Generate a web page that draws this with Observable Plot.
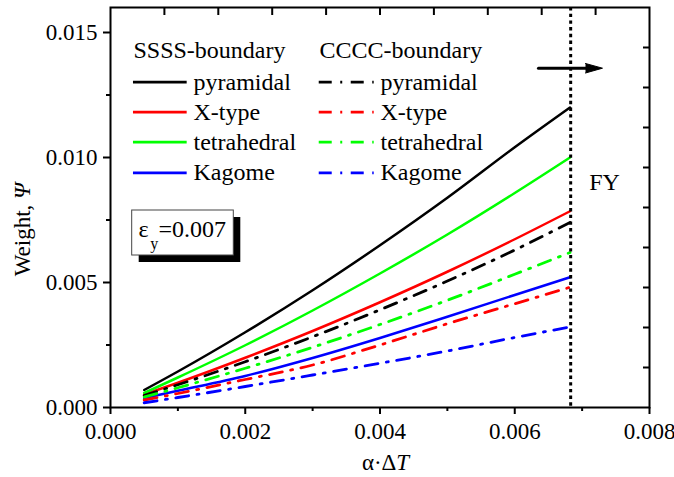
<!DOCTYPE html>
<html><head><meta charset="utf-8">
<script src="https://cdn.jsdelivr.net/npm/d3@7"></script>
<script src="https://cdn.jsdelivr.net/npm/@observablehq/plot@0.6"></script>
<style>html,body{margin:0;padding:0;background:#fff}#chart svg{display:block}</style>
</head><body><div id="chart"></div>
<script>
// x values (α·ΔT)
const alphaDT = [0.0005, 0.001, 0.002, 0.003, 0.004, 0.005, 0.006, 0.00682];
// SSSS-boundary (solid)
const ssssPyramidal   = [0.00070, 0.00144, 0.00301, 0.00469, 0.00649, 0.00839, 0.01041, 0.01200];
const ssssXtype       = [0.00052, 0.00099, 0.00199, 0.00306, 0.00421, 0.00543, 0.00673, 0.00785];
const ssssTetrahedral = [0.00058, 0.00120, 0.00249, 0.00388, 0.00536, 0.00692, 0.00858, 0.01000];
const ssssKagome      = [0.00038, 0.00067, 0.00126, 0.00198, 0.00278, 0.00363, 0.00450, 0.00521];
// CCCC-boundary (dash-dot)
const ccccPyramidal   = [0.00048, 0.00091, 0.00183, 0.00283, 0.00391, 0.00506, 0.00630, 0.00740];
const ccccXtype       = [0.00030, 0.00056, 0.00112, 0.00170, 0.00250, 0.00335, 0.00415, 0.00481];
const ccccTetrahedral = [0.00042, 0.00079, 0.00157, 0.00241, 0.00332, 0.00429, 0.00533, 0.00620];
const ccccKagome      = [0.00019, 0.00040, 0.00084, 0.00130, 0.00177, 0.00226, 0.00280, 0.00322];

const typeNames = ["pyramidal", "X-type", "tetrahedral", "Kagome"];
const typeColors = ["#000000", "#ff0000", "#00ff00", "#0000ff"];
const ssssSeries = [ssssPyramidal, ssssXtype, ssssTetrahedral, ssssKagome];
const ccccSeries = [ccccPyramidal, ccccXtype, ccccTetrahedral, ccccKagome];

const xMajorTicks = [0, 0.002, 0.004, 0.006, 0.008];
const xMinorTicks = [0.001, 0.003, 0.005, 0.007];
const yMajorTicks = [0, 0.005, 0.010, 0.015];
const yMinorTicks = [0.0025, 0.0075, 0.0125];
const topTicks = [0.0008, 0.0016, 0.0024, 0.0032, 0.0040, 0.0048, 0.0056, 0.0064, 0.0072];
const rightTicks = [0.0016, 0.0032, 0.0048, 0.0064, 0.0080, 0.0096, 0.0112, 0.0128, 0.0144];

const fyLimit = 0.00683;
const dashDot = "13,8.5,2,8.5";

// annotation anchors (data units)
const legendHeaderY = 0.014268;
const legendRowY = [0.013012, 0.011812, 0.010612, 0.009388];
const ssssLine = [0.000341, 0.001138], ssssTextX = 0.001232, ssssHeaderX = 0.000341;
const ccccLine = [0.003098, 0.003914], ccccTextX = 0.004007, ccccHeaderX = 0.003102;

const toRows = arr => arr.map((v, i) => ({x: alphaDT[i], y: v}));

const marks = [];
ssssSeries.forEach((s, i) => marks.push(Plot.line(toRows(s), {x: "x", y: "y", stroke: typeColors[i], strokeWidth: 2.5, curve: "monotone-x"})));
ccccSeries.forEach((s, i) => marks.push(Plot.line(toRows(s), {x: "x", y: "y", stroke: typeColors[i], strokeWidth: 2.8, strokeDasharray: dashDot, curve: "monotone-x"})));

// FY limit
marks.push(Plot.ruleX([fyLimit], {stroke: "black", strokeWidth: 3, strokeDasharray: "3.4,3.3"}));

// legend
marks.push(Plot.text(["SSSS-boundary"], {x: ssssHeaderX, y: legendHeaderY, text: d => d, textAnchor: "start", fontSize: 24}));
marks.push(Plot.text(["CCCC-boundary"], {x: ccccHeaderX, y: legendHeaderY, text: d => d, textAnchor: "start", fontSize: 24}));
typeNames.forEach((n, i) => {
  marks.push(Plot.ruleY([legendRowY[i]], {x1: ssssLine[0], x2: ssssLine[1], stroke: typeColors[i], strokeWidth: 2.8}));
  marks.push(Plot.text([n], {x: ssssTextX, y: legendRowY[i], text: d => d, textAnchor: "start", fontSize: 24}));
  marks.push(Plot.ruleY([legendRowY[i]], {x1: ccccLine[0], x2: ccccLine[1], stroke: typeColors[i], strokeWidth: 2.8, strokeDasharray: dashDot}));
  marks.push(Plot.text([n], {x: ccccTextX, y: legendRowY[i], text: d => d, textAnchor: "start", fontSize: 24}));
});

// epsilon box
const epsBox = {x1: 0.000322, x2: 0.001830, y1: 0.00608, y2: 0.00788};
marks.push(Plot.rect([epsBox], {x1: "x1", x2: "x2", y1: "y1", y2: "y2", fill: "black", dx: 7, dy: 7}));
marks.push(Plot.rect([epsBox], {x1: "x1", x2: "x2", y1: "y1", y2: "y2", fill: "white", stroke: "#444", strokeWidth: 1}));
marks.push(Plot.text(["ε"], {x: 0.000416, y: 0.007108, text: d => d, textAnchor: "start", fontSize: 24}));
marks.push(Plot.text(["y"], {x: 0.000590, y: 0.006540, text: d => d, textAnchor: "start", fontSize: 16}));
marks.push(Plot.text(["=0.007"], {x: 0.000712, y: 0.007108, text: d => d, textAnchor: "start", fontSize: 24}));

// arrow + FY
marks.push(Plot.line([{x: 0.006352, y: 0.013572}, {x: 0.007124, y: 0.013572}], {x: "x", y: "y", stroke: "black", strokeWidth: 3}));
marks.push(Plot.line([{x: 0.007050, y: 0.01376}, {x: 0.007302, y: 0.013572}, {x: 0.007050, y: 0.01338}], {x: "x", y: "y", fill: "black", stroke: "black", strokeWidth: 1}));
marks.push(Plot.text(["FY"], {x: 0.007332, y: 0.0090, text: d => d, fontSize: 24}));

// axis titles
marks.push(Plot.text(["Weight, Ψ"], {x: -0.001306, y: 0.00712, text: d => d, rotate: -90, fontSize: 23}));
marks.push(Plot.text(["α·ΔT"], {x: 0.004082, y: -0.00222, text: d => d, fontSize: 23}));

// axes
marks.push(Plot.axisY(yMajorTicks, {tickSize: 7, tickPadding: 6, tickFormat: d3.format(".3f"), fontSize: 23, label: null, strokeWidth: 2}));
marks.push(Plot.axisY(yMinorTicks, {tickSize: 4, tickFormat: () => "", label: null, strokeWidth: 2}));
marks.push(Plot.axisX(xMajorTicks, {tickSize: 7, tickPadding: 8, tickFormat: d3.format(".3f"), fontSize: 23, label: null, strokeWidth: 2}));
marks.push(Plot.axisX(xMinorTicks, {tickSize: 4, tickFormat: () => "", label: null, strokeWidth: 2}));
marks.push(Plot.axisX(topTicks, {anchor: "top", tickSize: 7, dy: 7, tickFormat: () => "", label: null, strokeWidth: 2}));
marks.push(Plot.axisY(rightTicks, {anchor: "right", tickSize: 7, dx: -7, tickFormat: () => "", label: null, strokeWidth: 2}));
marks.push(Plot.frame({stroke: "black", strokeWidth: 2}));

const svg = Plot.plot({
  width: 674, height: 477,
  marginLeft: 110, marginRight: 25, marginTop: 7, marginBottom: 70,
  x: {domain: [0, 0.008]},
  y: {domain: [0, 0.016]},
  style: {fontFamily: "'Liberation Serif', 'Times New Roman', serif", background: "white", color: "black", overflow: "visible"},
  marks
});
svg.querySelectorAll("text").forEach(t => {
  if (t.textContent === "Weight, Ψ") t.innerHTML = 'Weight, <tspan font-style="italic">Ψ</tspan>';
  if (t.textContent === "α·ΔT") t.innerHTML = 'α·Δ<tspan font-style="italic">T</tspan>';
});
document.getElementById("chart").append(svg);
</script>
</body></html>
